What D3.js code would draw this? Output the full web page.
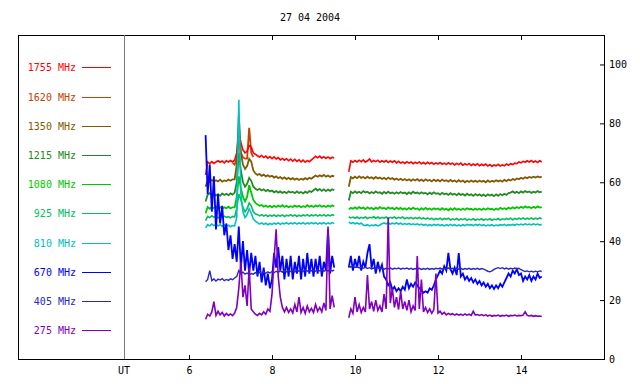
<!DOCTYPE html>
<html><head><meta charset="utf-8">
<script src="https://cdn.jsdelivr.net/npm/d3@7"></script>
<style>
html,body{margin:0;padding:0;background:#fff;}
svg{display:block;}
text{font-family:"DejaVu Sans Mono",monospace;font-size:10px;}
</style>
</head><body>
<svg id="c" width="640" height="384"></svg>
<script>
// ---------- DATA ----------
const title = "27 04 2004";
const xTicks = [6, 8, 10, 12, 14];
const yTicks = [0, 20, 40, 60, 80, 100];
const labels = ["1755 MHz","1620 MHz","1350 MHz","1215 MHz","1080 MHz","925 MHz","810 MHz","670 MHz","405 MHz","275 MHz"];
const colors = ["#ff0000","#c84000","#825a00","#228b22","#00c800","#00c060","#00c0c0","#0000ff","#2828c0","#8000c0"];

// sample times (UT hours)
const T1 = [6.40,6.45,6.50,6.55,6.60,6.65,6.70,6.75,6.80,6.85,6.90,6.95,
 7.00,7.05,7.10,7.15,7.20,7.25,7.30,7.35,7.40,7.45,7.50,7.55,7.60,7.65,7.70,7.75,7.80,7.85,7.90,7.95,
 8.00,8.05,8.10,8.15,8.20,8.25,8.30,8.35,8.40,8.45,8.50,8.55,8.60,8.65,8.70,8.75,8.80,8.85,8.90,8.95,
 9.00,9.05,9.10,9.15,9.20,9.25,9.30,9.35,9.40,9.45,9.50];
const T2 = [9.85,9.90,9.95,
 10.00,10.05,10.10,10.15,10.20,10.25,10.30,10.35,10.40,10.45,10.50,10.55,10.60,10.65,10.70,10.75,10.80,10.85,10.90,10.95,
 11.00,11.05,11.10,11.15,11.20,11.25,11.30,11.35,11.40,11.45,11.50,11.55,11.60,11.65,11.70,11.75,11.80,11.85,11.90,11.95,
 12.00,12.05,12.10,12.15,12.20,12.25,12.30,12.35,12.40,12.45,12.50,12.55,12.60,12.65,12.70,12.75,12.80,12.85,12.90,12.95,
 13.00,13.05,13.10,13.15,13.20,13.25,13.30,13.35,13.40,13.45,13.50,13.55,13.60,13.65,13.70,13.75,13.80,13.85,13.90,13.95,
 14.00,14.05,14.10,14.15,14.20,14.25,14.30,14.35,14.40,14.45,14.50];
const T1620 = [7.05,7.10,7.15,7.20,7.25,7.30,7.35,7.40,7.45,7.50,7.55];

const f1755a = [62.5,66.9,66.3,67.0,66.4,66.9,67.3,66.8,67.2,66.6,67.3,66.9,
 67.4,66.9,67.5,70.0,77.0,73.5,71.0,70.0,70.5,72.5,72.0,70.0,69.5,69.0,68.6,69.1,68.4,68.9,68.2,68.7,
 68.0,68.6,67.9,68.4,67.6,68.1,67.5,68.0,67.3,67.9,67.2,67.8,67.1,67.6,66.9,67.5,66.8,67.4,67.0,67.6,
 68.2,68.8,68.3,68.9,68.2,68.7,68.1,68.6,68.0,68.5,68.2];
const f1755b = [63.5,67.3,66.8,
 67.4,66.9,67.5,67.0,67.6,66.8,67.3,67.9,66.9,67.4,67.0,67.5,66.8,67.3,66.9,67.4,66.7,67.2,66.8,67.3,
 66.6,67.1,66.5,66.9,66.4,67.0,66.5,66.9,66.3,66.8,66.4,66.9,66.3,66.7,66.2,66.8,66.3,66.7,66.1,66.6,
 66.2,66.7,66.1,66.5,66.0,66.6,66.1,66.5,65.9,66.4,66.0,66.5,65.8,66.3,65.9,66.4,65.7,66.2,65.8,66.3,
 65.6,66.1,65.7,66.2,65.5,66.0,65.4,65.9,65.6,66.1,65.5,65.9,65.6,66.2,65.8,66.3,66.0,66.5,66.3,66.9,
 66.6,67.1,66.8,67.3,66.9,67.4,66.8,67.2,66.7,67.3,66.9];
const f1620 = [66.5,66.0,68.0,74.0,70.0,68.5,68.0,68.0,78.5,70.0,68.5];
const f1350a = [58.5,60.6,60.1,60.8,60.2,60.7,60.3,60.9,60.2,60.6,60.4,60.9,
 60.5,61.0,61.0,66.0,82.5,70.0,66.0,64.5,65.5,68.0,67.0,64.0,63.0,62.5,62.8,62.2,62.6,62.0,62.4,61.9,
 62.2,61.6,62.0,61.4,61.8,61.2,61.7,61.1,61.5,61.0,61.4,60.9,61.3,60.8,61.2,60.9,61.4,61.0,61.5,61.2,
 61.8,62.3,61.9,62.4,62.0,62.5,61.9,62.3,61.8,62.2,62.0];
const f1350b = [58.5,61.8,61.3,
 61.9,61.4,62.0,61.5,61.8,61.3,61.9,61.4,61.7,61.2,61.8,61.3,61.6,61.1,61.5,61.0,61.6,61.1,61.4,60.9,
 61.3,60.8,61.2,60.7,61.1,60.6,61.0,60.5,61.0,60.6,61.1,60.5,60.9,60.4,61.0,60.5,60.8,60.3,60.9,60.4,
 60.8,60.3,60.9,60.4,60.7,60.2,60.8,60.3,60.6,60.1,60.7,60.2,60.6,60.0,60.5,60.1,60.6,60.2,60.5,60.1,
 60.6,60.2,60.5,60.0,60.6,60.1,60.5,60.2,60.7,60.3,60.6,60.2,60.8,60.4,60.9,60.6,61.1,60.8,61.3,61.0,
 61.5,61.2,61.7,61.4,61.8,61.5,61.9,61.6,62.0,61.7,61.8];
const f1215a = [53.5,55.8,56.3,55.6,56.1,55.5,56.0,55.4,56.2,55.7,56.1,55.6,
 56.2,55.8,56.5,60.0,70.0,64.0,60.0,58.5,59.5,61.5,60.5,58.5,57.8,57.4,57.8,57.2,57.6,57.0,57.4,56.9,
 57.2,56.6,57.0,56.5,56.9,56.4,56.8,56.3,56.9,56.5,56.8,56.3,56.9,56.4,56.7,56.2,56.8,56.4,57.0,56.7,
 57.3,57.8,57.2,57.7,57.1,57.6,57.0,57.5,57.1,57.6,57.3];
const f1215b = [53.8,56.8,56.3,
 56.9,56.4,56.8,56.3,57.0,56.5,56.8,56.2,56.7,56.3,56.9,56.4,56.6,56.1,56.7,56.2,56.8,56.3,56.5,56.1,
 56.6,56.2,56.7,56.3,56.5,56.0,56.6,56.1,56.8,56.3,56.5,56.1,56.6,56.2,56.4,55.9,56.5,56.0,56.6,56.1,
 56.3,55.8,56.4,55.9,56.2,55.7,56.3,55.8,56.1,55.6,56.2,55.7,56.0,55.5,56.1,55.6,55.9,55.4,56.0,55.5,
 55.9,55.4,55.8,55.3,55.9,55.5,55.8,55.3,55.9,55.4,56.0,55.6,56.1,55.7,56.3,56.5,56.9,56.4,56.8,56.3,
 56.9,56.5,57.0,56.6,56.9,56.4,56.8,56.5,57.0,56.6,56.8];
const f1080a = [49.5,51.6,51.0,51.7,51.2,51.8,51.1,51.6,51.0,51.5,51.2,51.7,
 51.1,51.5,51.5,55.0,62.0,58.0,55.0,53.5,55.0,59.0,56.5,54.0,53.0,52.5,52.0,52.3,51.7,52.1,51.6,52.0,
 51.5,52.0,51.6,52.1,51.7,52.2,51.6,52.0,51.5,51.9,51.6,52.1,51.7,52.0,51.5,51.9,51.6,52.2,51.7,52.0,
 51.6,52.1,51.8,52.2,51.7,52.0,51.6,52.1,51.7,52.2,51.8];
const f1080b = [50.8,51.3,51.0,
 51.5,51.0,51.6,51.1,51.4,50.9,51.5,51.0,51.3,50.8,51.4,51.0,51.6,51.1,51.3,50.9,51.5,51.0,51.3,50.8,
 51.4,50.9,51.3,50.8,51.2,50.7,51.3,50.8,51.4,50.9,51.1,50.6,51.2,50.7,51.3,50.8,51.1,50.7,51.2,50.8,
 51.1,50.6,51.2,50.7,51.0,50.5,51.1,50.6,51.2,50.7,51.0,50.6,51.1,50.7,51.2,50.8,51.0,50.6,51.1,50.7,
 51.0,50.6,51.1,50.7,51.2,50.8,51.0,50.6,51.1,50.7,51.3,50.9,51.2,50.8,51.4,51.0,51.5,51.1,51.6,51.2,
 51.7,51.3,51.8,51.4,51.6,51.2,51.7,51.3,51.8,51.4,51.6];
const f925a = [47.0,48.4,48.0,48.6,48.1,48.5,47.9,48.4,48.0,48.5,48.1,48.3,
 47.9,48.4,48.2,51.0,56.0,54.0,51.5,50.0,51.0,53.0,52.0,50.0,49.3,49.0,48.6,49.0,48.5,48.9,48.4,48.8,
 48.5,48.9,48.4,48.8,48.5,48.9,48.4,48.8,48.6,49.0,48.5,48.9,48.4,48.8,48.5,48.9,48.6,49.0,48.5,48.9,
 48.6,49.0,48.5,48.9,48.6,49.0,48.5,48.9,48.6,49.0,48.7];
const f925b = [48.3,47.9,48.2,
 47.8,48.2,47.7,48.1,47.8,48.2,47.7,48.1,47.9,48.3,47.8,48.2,47.7,48.1,47.8,48.2,47.7,48.1,47.8,48.2,
 47.7,48.1,47.8,48.2,47.6,48.0,47.7,48.1,47.6,48.0,47.7,48.1,47.6,47.9,47.5,47.9,47.4,47.8,47.3,47.7,
 47.4,47.8,47.3,47.7,47.4,47.8,47.2,47.6,47.3,47.7,47.2,47.6,47.3,47.7,47.1,47.5,47.2,47.6,47.1,47.5,
 47.2,47.6,47.1,47.5,47.2,47.6,47.1,47.5,47.3,47.7,47.2,47.6,47.3,47.7,47.4,47.8,47.3,47.7,47.4,47.8,
 47.5,47.9,47.4,47.8,47.5,47.9,47.4,47.8,47.5,47.9,47.6];
const f810a = [44.5,45.6,45.2,45.8,45.3,45.7,45.2,45.6,45.0,45.5,45.1,45.4,
 44.9,45.3,45.2,48.0,88.0,56.0,50.0,48.0,49.0,51.0,49.5,47.5,46.8,46.3,45.8,46.2,45.7,46.1,45.6,46.0,
 45.7,46.1,45.8,46.2,45.7,46.1,45.9,46.3,45.8,46.2,45.9,46.3,45.8,46.2,45.9,46.3,45.8,46.2,45.9,46.3,
 45.9,46.3,45.8,46.2,45.9,46.3,45.8,46.2,45.9,46.3,46.0];
const f810b = [46.6,46.0,46.3,
 45.9,46.2,45.8,46.1,45.5,45.3,45.6,45.2,45.5,45.3,45.6,45.2,45.5,45.9,46.2,45.9,46.2,45.8,46.1,45.9,
 46.2,45.8,46.1,45.7,46.0,45.7,46.0,45.6,45.9,45.6,45.9,45.5,45.8,45.4,45.7,45.3,45.6,45.3,45.7,45.4,
 45.7,45.3,45.6,45.2,45.6,45.3,45.7,45.3,45.6,45.2,45.5,45.2,45.6,45.3,45.7,45.4,45.6,45.3,45.7,45.4,
 45.7,45.3,45.6,45.2,45.5,45.3,45.6,45.2,45.5,45.3,45.6,45.4,45.7,45.3,45.6,45.4,45.7,45.4,45.8,45.5,
 45.8,45.5,45.9,45.6,45.8,45.5,45.9,45.6,45.8,45.5,45.7];
const f670a = [76,56,66,50,62,44,56,46,52,42,46,37,
 42,34,39,33,45,31,40,30,37,29,36,30,35,28,33,26,31,25,29,24,
 27,36,31,38,30,35,27,34,28,35,27,33,29,35,27,34,28,36,29,34,
 28,34,29,35,28,33,30,44,29,35,31];
const f670b = [31,35,30,
 34,31,35,30,33,31,36,39,31,34,29,33,30,32,28,27,25,26,23.5,24.5,
 23,24,23,24.5,23.5,27,24,25.5,24.5,26,25,24,23.5,22.5,23,22.5,24,23.5,25,27,
 28.5,30,29,31.5,30,36,30.5,29,31,28.5,36,28,29,27,28,26.5,27.5,26,27,25.5,
 26.5,25,26,24.5,25.5,24,25,23.8,25,24,25.5,24.5,26,27.5,29,28,30,29,30.5,28.5,
 29,26.5,28,27,28.5,26.5,28,27,29,27.5,28];
const f405a = [26.2,27.0,30.0,26.6,27.2,26.5,27.1,26.8,27.3,26.6,27.0,26.7,
 27.2,26.9,27.5,28.0,30.0,29.0,29.5,28.8,29.2,28.6,29.0,28.8,29.3,28.9,29.4,29.0,29.5,29.1,29.6,29.2,
 29.7,29.3,29.8,29.4,29.9,29.5,30.0,29.6,30.1,29.7,30.0,29.6,30.2,29.8,30.1,29.7,30.2,29.8,30.1,29.9,
 30.2,29.8,30.3,29.9,30.2,29.8,30.1,29.9,30.3,29.9,30.2];
const f405b = [31.8,31.2,31.5,
 31.1,31.4,30.9,31.2,30.8,31.1,30.7,31.0,30.6,30.9,30.7,31.0,30.6,30.9,30.5,30.8,30.6,30.9,30.5,30.8,
 30.6,30.9,30.5,30.8,30.6,30.9,30.5,30.8,30.4,30.7,30.5,30.8,30.4,30.7,30.5,30.8,30.4,30.7,30.5,30.8,
 30.6,30.9,30.5,30.8,30.6,30.9,30.5,30.8,30.6,30.9,30.5,30.8,30.4,30.7,30.5,30.8,30.4,30.7,30.5,30.8,
 30.4,30.7,30.5,30.2,29.8,29.6,29.9,30.4,30.8,31.0,30.7,31.0,30.6,30.9,30.5,30.8,30.6,30.9,30.5,30.8,
 30.3,30.0,29.7,29.9,29.6,29.8,29.5,29.8,29.6,29.9,29.7];
const f275a = [13.5,15.2,14.6,16.0,19.5,14.8,16.2,15.0,15.8,14.6,15.5,14.8,
 15.3,14.7,15.6,17.5,24.0,33.0,21.0,25.0,18.0,31.0,17.0,16.0,15.2,14.8,15.5,15.0,16.0,15.2,17.0,16.2,
 22.0,34.0,44.0,28.0,21.0,17.5,16.0,17.5,15.8,17.0,15.6,18.5,16.0,21.0,15.8,17.5,15.5,18.0,16.0,17.2,
 15.8,18.5,16.2,17.5,16.0,19.0,16.5,45.0,17.0,21.5,17.5];
const f275b = [14.0,17.0,15.5,
 21.0,16.0,18.5,15.8,17.5,16.0,28.5,17.0,19.5,16.2,20.0,16.5,18.0,16.0,22.0,17.0,48.0,19.0,24.0,17.5,
 21.0,16.8,23.0,17.0,19.5,16.5,20.0,16.0,18.0,16.5,35.0,17.0,27.0,16.0,17.5,15.8,17.0,15.5,16.8,29.0,
 15.6,16.2,15.2,15.8,15.0,15.5,15.1,15.4,14.9,15.3,14.9,15.2,14.8,15.3,14.9,15.2,14.8,16.2,14.9,15.1,
 14.8,15.1,14.7,15.0,14.6,14.9,14.5,14.8,14.6,14.9,14.5,14.8,14.6,14.9,14.5,14.8,14.7,14.9,14.6,14.8,
 14.7,14.9,16.0,14.8,14.6,14.8,14.5,14.7,14.5,14.6,14.4];

// ---------- CHART ----------
const svg = d3.select("#c");
const x = d3.scaleLinear().domain([6, 14]).range([189, 521]);
const y = d3.scaleLinear().domain([0, 110]).range([359, 35]);
const L = 18, R = 604, TOP = 35, BOT = 359;

// frame
svg.append("rect").attr("x", L + 0.5).attr("y", TOP + 0.5)
  .attr("width", R - L).attr("height", BOT - TOP)
  .attr("fill", "none").attr("stroke", "#000").attr("stroke-width", 1);
// UT separator
svg.append("line").attr("x1", 124.5).attr("x2", 124.5).attr("y1", TOP).attr("y2", BOT)
  .attr("stroke", "#7a7a7a").attr("stroke-width", 1);

// axes
const gb = svg.append("g").attr("transform", `translate(0,${BOT})`)
  .call(d3.axisBottom(x).tickValues(xTicks).tickSizeInner(-4).tickSizeOuter(0).tickPadding(8).tickFormat(d3.format("d")));
const gt = svg.append("g").attr("transform", `translate(0,${TOP})`)
  .call(d3.axisTop(x).tickValues(xTicks).tickSizeInner(-5).tickSizeOuter(0).tickFormat(""));
const gr = svg.append("g").attr("transform", `translate(${R},0)`)
  .call(d3.axisRight(y).tickValues(yTicks).tickSizeInner(-4).tickSizeOuter(0).tickPadding(5).tickFormat(d3.format("d")));
[gb, gt, gr].forEach(g => {
  g.select(".domain").remove();
  g.selectAll("line").attr("stroke", "#000");
  g.selectAll("text").attr("fill", "#000").style("font-family", '"DejaVu Sans Mono",monospace').style("font-size", "10px");
});
svg.append("text").attr("x", 124).attr("y", BOT + 8).attr("dy", "0.71em")
  .attr("text-anchor", "middle").attr("fill", "#000").text("UT");

// title
svg.append("text").attr("x", 310).attr("y", 21).attr("text-anchor", "middle")
  .attr("fill", "#000").text(title);

// legend
labels.forEach((lab, i) => {
  const ly = Math.round(67.3 + i * 29.2);
  svg.append("text").attr("x", 76).attr("y", ly + 4).attr("text-anchor", "end")
    .attr("fill", colors[i]).text(lab);
  svg.append("line").attr("x1", 82).attr("x2", 111).attr("y1", ly + 0.5).attr("y2", ly + 0.5)
    .attr("stroke", colors[i]).attr("stroke-width", 1);
});

// series (draw order: 1620 first so it sits behind 1755)
const seriesData = [
  {c: 1, segs: [[T1620, f1620]]},
  {c: 0, segs: [[T1, f1755a], [T2, f1755b]]},
  {c: 2, segs: [[T1, f1350a], [T2, f1350b]]},
  {c: 3, segs: [[T1, f1215a], [T2, f1215b]]},
  {c: 4, segs: [[T1, f1080a], [T2, f1080b]]},
  {c: 5, segs: [[T1, f925a], [T2, f925b]]},
  {c: 6, segs: [[T1, f810a], [T2, f810b]]},
  {c: 7, segs: [[T1, f670a], [T2, f670b]]},
  {c: 8, segs: [[T1, f405a], [T2, f405b]]},
  {c: 9, segs: [[T1, f275a], [T2, f275b]]}
];
const widths = [1.6,1.8,1.8,1.8,1.8,1.6,1.6,1.8,1.4,1.6];
const line = d3.line().x(d => x(d[0])).y(d => y(d[1]));
const gl = svg.append("g");
seriesData.forEach(s => {
  s.segs.forEach(([t, v]) => {
    gl.append("path").datum(d3.zip(t, v)).attr("d", line)
      .attr("fill", "none").attr("stroke", colors[s.c]).attr("stroke-width", widths[s.c])
      .attr("stroke-linejoin", "miter");
  });
});
</script>
</body></html>
